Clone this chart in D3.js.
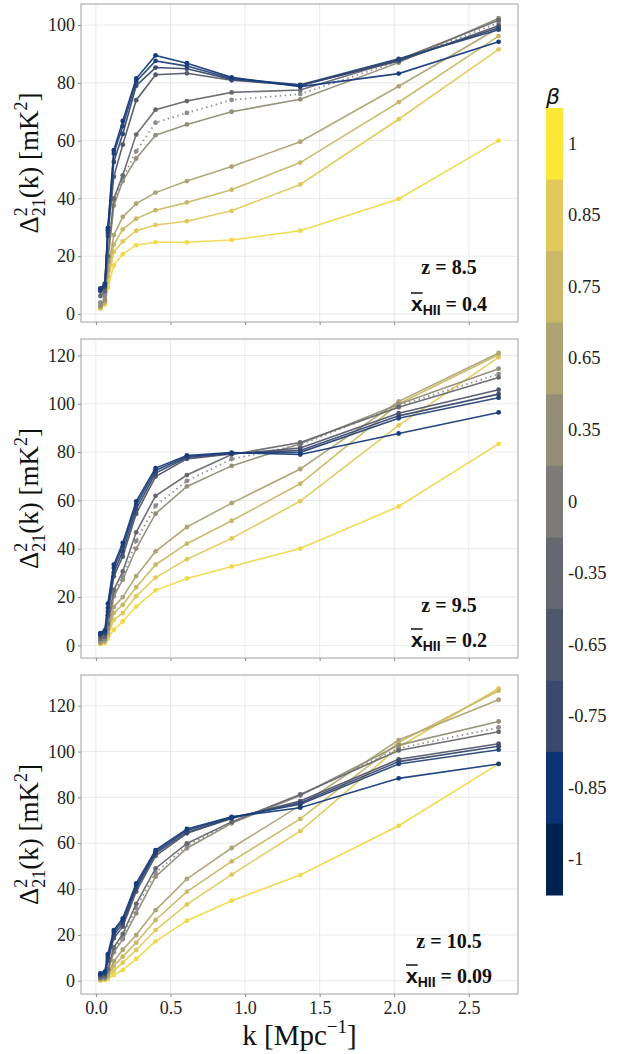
<!DOCTYPE html>
<html>
<head>
<meta charset="utf-8">
<script src="https://cdn.jsdelivr.net/npm/d3@7"></script>
<style>
  body { margin: 0; background: #fff; }
  svg text { font-family: 'Liberation Serif'; }
</style>
</head>
<body>
<script>
// k bins (Mpc^-1)
const kVals = [0.03, 0.06, 0.08, 0.12, 0.18, 0.27, 0.40, 0.61, 0.91, 1.37, 2.03, 2.70];

// beta values, top of colour bar first
const betas = [1, 0.85, 0.75, 0.65, 0.35, 0, -0.35, -0.65, -0.75, -0.85, -1];
const betaLabels = ["1", "0.85", "0.75", "0.65", "0.35", "0", "-0.35", "-0.65", "-0.75", "-0.85", "-1"];
const betaColors = ["#fde737", "#e2c95c", "#c9b866", "#aea373", "#948d77", "#7c7b78",
                    "#666870", "#50576c", "#3a496d", "#0d3472", "#00224e"];
const lineColors = ["#f0d94a", "#e2c95c", "#c9b866", "#aea373", "#948d77", "#8c8c8c",
                    "#666870", "#50576c", "#3a496d", "#264578", "#163c7c"];

// panel annotations
const zLabels = ["8.5", "9.5", "10.5"];
const xhiiLabels = ["0.4", "0.2", "0.09"];
const xTicks = [0, 0.5, 1, 1.5, 2, 2.5];

// Delta^2_21(k) [mK^2], rows follow betas
const z85 = [
  [1.8, 3.2, 9, 16.8, 20.7, 23.8, 24.8, 24.8, 25.6, 28.8, 39.8, 60],
  [2, 3.6, 11, 21.5, 25.1, 28.8, 30.8, 32.1, 35.7, 44.8, 67.4, 91.6],
  [2.2, 4, 13, 24, 29.3, 33, 35.9, 38.6, 43, 52.4, 73.3, 96.2],
  [2.5, 4.5, 15, 27.3, 33.6, 38.2, 42, 46, 51, 59.6, 78.8, 99],
  [3, 5, 18, 37.5, 46, 53.8, 61.9, 65.6, 70, 74.3, 87, 102.4],
  [4, 6.5, 19, 39.5, 47, 56.3, 66.2, 69.6, 74.1, 76.1, 87.5, 100.8],
  [6.2, 7.8, 20, 40, 48, 62.1, 70.7, 73.7, 76.7, 77.5, 88, 101.7],
  [7.8, 9.1, 27, 47.5, 58.6, 74, 82.8, 83.3, 80.9, 79.2, 87.5, 99.8],
  [8.2, 9.6, 28, 52.6, 62.3, 79, 85.3, 84.9, 81.2, 79, 87.9, 99.1],
  [8.5, 10, 29, 55.5, 65, 80.5, 87.6, 85.8, 81.5, 79.3, 88.3, 98.4],
  [8.8, 10.5, 29.8, 56.7, 66.8, 81.5, 89.5, 86.8, 81.9, 78.7, 83.2, 94.2]
];
const z95 = [
  [0.5, 1, 2.8, 6.5, 9.9, 16.1, 22.8, 27.7, 32.7, 40.1, 57.5, 83.4],
  [0.8, 1.4, 3.8, 10.6, 13.4, 20.4, 28.1, 35.7, 44.3, 59.7, 91.1, 119.2],
  [1, 1.7, 4.5, 13.4, 16.8, 24.1, 33.4, 42.1, 51.6, 66.9, 100, 120.3],
  [1.2, 2, 5.5, 15.9, 20, 28.7, 38.9, 49, 58.9, 73, 101, 121],
  [1.6, 2.4, 7, 20.3, 27.2, 40.1, 54.5, 65.8, 74.3, 83.5, 99.8, 114.5],
  [2, 2.8, 8, 21.7, 28.6, 43.3, 57.8, 68.1, 77.1, 83, 99.2, 112.3],
  [2.8, 3.5, 9, 23, 30.6, 46.8, 61.9, 70.5, 79, 84, 98.6, 110.9],
  [4, 4.8, 12.5, 28.6, 36.8, 54.5, 69.9, 77.2, 79.2, 81.7, 96.1, 105.8],
  [4.4, 5.3, 14, 30.2, 38.9, 56.4, 71.3, 77.8, 79.4, 80.7, 95, 104],
  [4.8, 5.8, 15.5, 32, 41, 58.2, 72.4, 78.2, 79.6, 79.9, 94, 102.5],
  [5.1, 6.2, 17.3, 33.4, 42.4, 59.6, 73.4, 78.6, 79.8, 79, 87.7, 96.4]
];
const z105 = [
  [0.1, 0.3, 0.8, 2.5, 4.7, 9.5, 17.2, 26.2, 34.9, 46.1, 67.6, 94.6],
  [0.3, 0.6, 1.5, 4.4, 7.9, 13.4, 22.1, 33.3, 46.3, 65.3, 102, 127.5],
  [0.5, 0.8, 2, 6.4, 10.5, 16.6, 26.5, 38.9, 52.1, 70.6, 104, 126.5],
  [0.7, 1, 2.6, 8.5, 13.5, 19.9, 30.8, 44.4, 57.9, 76.5, 105, 122.6],
  [1, 1.3, 4, 12.4, 18.1, 29.4, 45.4, 57.8, 68.7, 80.8, 102.8, 113.1],
  [1.2, 1.6, 4.5, 13.4, 19.2, 31.6, 47.1, 58.9, 69, 81, 101.4, 110.5],
  [1.5, 1.9, 5, 14.6, 20.4, 33.5, 49, 59.9, 69.3, 81.3, 100.5, 108.6],
  [2.4, 2.9, 8.5, 18.5, 23.6, 38.9, 54.5, 64.3, 70.8, 78.4, 96.6, 103.4],
  [2.7, 3.2, 9.5, 19.9, 25, 40.3, 55.6, 64.7, 71, 77.7, 95.6, 102.3],
  [3, 3.6, 10.5, 21.1, 26.2, 41.3, 56.3, 65.5, 71.3, 77, 94.6, 100.8],
  [3.2, 3.9, 11.6, 22.1, 27.2, 42.5, 57, 66.2, 71.5, 75.5, 88.3, 94.6]
];

var serif_font = "Liberation Serif";
var sans_font = "Liberation Sans";
var grid_col = "#e3e3e3";
var frame_col = "#a0a0a0";

var W = 628, H = 1054;
var left = 81, right = 518;

var svg = d3.select("body").append("svg")
  .attr("width", W)
  .attr("height", H)
  .attr("font-family", serif_font)
  .style("display", "block");

var x = d3.scaleLinear().domain([-0.10, 2.83]).range([left, right]);

// panel boxes and y ranges
var panels = [
  { data: z85, top: 4, bottom: 322, dom: [-2.8, 107.3], ticks: [0, 20, 40, 60, 80, 100] },
  { data: z95, top: 339, bottom: 658, dom: [-5.2, 126.8], ticks: [0, 20, 40, 60, 80, 100, 120] },
  { data: z105, top: 675, bottom: 994, dom: [-5.8, 133.4], ticks: [0, 20, 40, 60, 80, 100, 120] }
];

panels.forEach(function (p, pi) {
  var y = d3.scaleLinear().domain(p.dom).range([p.bottom, p.top]);
  var g = svg.append("g");

  g.append("rect")
    .attr("x", left).attr("y", p.top)
    .attr("width", right - left).attr("height", p.bottom - p.top)
    .style("fill", "#fff");

  // grid
  g.selectAll("line.gx").data(xTicks).enter().append("line")
    .attr("x1", d => x(d)).attr("x2", d => x(d))
    .attr("y1", p.top).attr("y2", p.bottom)
    .style("stroke", grid_col).style("stroke-width", 0.8);
  g.selectAll("line.gy").data(p.ticks).enter().append("line")
    .attr("x1", left).attr("x2", right)
    .attr("y1", d => y(d)).attr("y2", d => y(d))
    .style("stroke", grid_col).style("stroke-width", 0.8);

  // axes
  var yAxis = g.append("g")
    .attr("transform", "translate(" + left + ",0)")
    .call(d3.axisLeft(y).tickValues(p.ticks).tickSize(3).tickPadding(3).tickFormat(d3.format("d")));
  yAxis.attr("font-family", serif_font).attr("font-size", 18);
  yAxis.select(".domain").remove();
  yAxis.selectAll("line").style("stroke", "#888");
  yAxis.selectAll("text").attr("font-family", serif_font).style("fill", "#222");

  var xAxis = g.append("g")
    .attr("transform", "translate(0," + p.bottom + ")")
    .call(d3.axisBottom(x).tickValues(xTicks).tickSize(3).tickPadding(4).tickFormat(d3.format(".1f")));
  xAxis.attr("font-family", serif_font).attr("font-size", 18);
  xAxis.select(".domain").remove();
  xAxis.selectAll("line").style("stroke", "#888");
  xAxis.selectAll("text").attr("font-family", serif_font).style("fill", "#222");
  if (pi < 2) xAxis.selectAll("text").remove();

  g.append("rect")
    .attr("x", left).attr("y", p.top)
    .attr("width", right - left).attr("height", p.bottom - p.top)
    .style("fill", "none").style("stroke", frame_col).style("stroke-width", 1);

  var line = d3.line().x((d, i) => x(kVals[i])).y(d => y(d));

  p.data.forEach(function (row, bi) {
    var lineCol = lineColors[bi];
    g.append("path")
      .datum(row)
      .attr("d", line)
      .style("fill", "none")
      .style("stroke", lineCol)
      .style("stroke-width", betas[bi] === 0 ? 1.8 : 1.6)
      .style("stroke-dasharray", betas[bi] === 0 ? "1.5,3.5" : null)
      .style("opacity", 0.95);
    g.selectAll(null).data(row).enter().append("circle")
      .attr("cx", (d, i) => x(kVals[i]))
      .attr("cy", d => y(d))
      .attr("r", 2.4)
      .style("fill", lineCol);
  });

  // annotation
  var cx = 449;
  var zy = p.bottom - (pi === 0 ? 48 : 46);
  g.append("text")
    .attr("x", cx).attr("y", zy)
    .attr("text-anchor", "middle")
    .attr("font-family", serif_font).attr("font-weight", "bold").attr("font-size", 20)
    .style("fill", "#111")
    .text("z = " + zLabels[pi]);

  var t = g.append("text")
    .attr("x", cx).attr("y", p.bottom - 11)
    .attr("text-anchor", "middle")
    .attr("font-family", serif_font).attr("font-weight", "bold").attr("font-size", 20)
    .style("fill", "#111");
  t.append("tspan").text("x")
    .style("font-family", sans_font).attr("font-size", 21);
  t.append("tspan").text("HII").attr("dy", 4)
    .style("font-family", sans_font).attr("font-size", 14);
  t.append("tspan").text(" = " + xhiiLabels[pi]).attr("dy", -4);
  var node = t.node();
  var s0 = node.getStartPositionOfChar(0).x, e0 = node.getEndPositionOfChar(0).x;
  g.append("line")
    .attr("x1", s0).attr("x2", e0)
    .attr("y1", p.bottom - 29).attr("y2", p.bottom - 29)
    .style("stroke", "#111").style("stroke-width", 1.5);

  // y title
  var yt = g.append("text")
    .attr("transform", "translate(38," + ((p.top + p.bottom) / 2) + ") rotate(-90)")
    .attr("text-anchor", "middle")
    .attr("font-family", serif_font).attr("font-size", 27)
    .style("fill", "#111");
  yt.append("tspan").text("Δ");
  yt.append("tspan").text("2").attr("dy", -11).attr("font-size", 18);
  yt.append("tspan").text("21").attr("dx", -9).attr("dy", 18).attr("font-size", 18);
  yt.append("tspan").text("(k) [mK").attr("dy", -7);
  yt.append("tspan").text("2").attr("dy", -11).attr("font-size", 18);
  yt.append("tspan").text("]").attr("dy", 11);
});

// x title
var xt = svg.append("text")
  .attr("x", (left + right) / 2).attr("y", 1045)
  .attr("text-anchor", "middle")
  .attr("font-family", serif_font).attr("font-size", 29)
  .style("fill", "#111");
xt.append("tspan").text("k [Mpc");
xt.append("tspan").text("−1").attr("dy", -12).attr("font-size", 19);
xt.append("tspan").text("]").attr("dy", 12);

// colour bar
var cb = d3.scaleBand().domain(betaLabels).range([108, 895]);
svg.selectAll("rect.cb").data(betaLabels).enter().append("rect")
  .attr("x", 546).attr("y", d => cb(d))
  .attr("width", 17).attr("height", cb.bandwidth() + 0.5)
  .style("fill", (d, i) => betaColors[i]);
svg.selectAll("text.cb").data(betaLabels).enter().append("text")
  .attr("x", 568).attr("y", d => cb(d) + cb.bandwidth() / 2 + 6)
  .attr("font-family", serif_font).attr("font-size", 18.5)
  .style("fill", "#222")
  .text(d => d);
svg.append("text")
  .attr("x", 546).attr("y", 104)
  .style("font-family", "DejaVu Sans").style("font-style", "italic")
  .attr("font-size", 22).style("fill", "#111")
  .text("β");
</script>
</body>
</html>
